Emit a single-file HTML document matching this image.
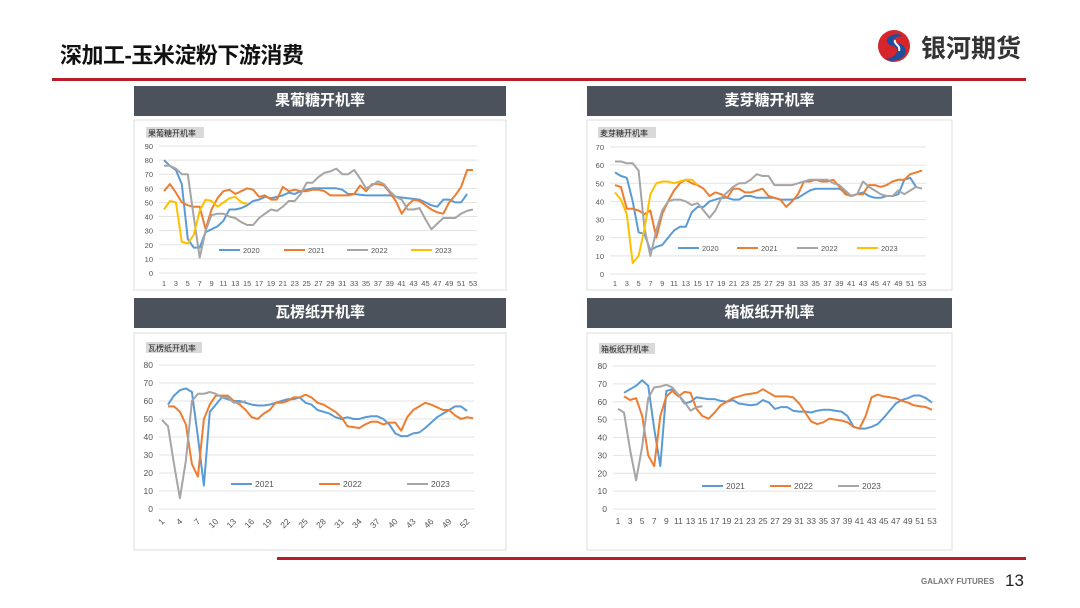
<!DOCTYPE html>
<html><head><meta charset="utf-8">
<style>
html,body{margin:0;padding:0;background:#fff;}
body{width:1080px;height:608px;position:relative;overflow:hidden;font-family:"Liberation Sans","Noto Sans CJK SC",sans-serif;}
.abs{position:absolute;}
.hdr{position:absolute;background:#4b525b;color:#fff;font-weight:bold;font-size:15px;text-align:center;line-height:30px;height:30px;}
</style></head>
<body>
<div class="abs" style="left:60px;top:38px;font-size:22px;font-weight:bold;color:#111;letter-spacing:-0.5px;">深加工-玉米淀粉下游消费</div>
<div class="abs" style="left:875px;top:28px;width:155px;height:36px;">
<svg width="40" height="36"><circle cx="19" cy="18" r="16" fill="#d7252c"/><path d="M24 6 C10 6 8 16 18 18 C26 20 22 30 10 31 C18 36 34 30 30 20 C28 14 16 16 20 10 C22 8 26 8 28 9 Z" fill="#1d4f9c"/><path d="M20 12 C18 16 26 17 24 23" stroke="#fff" stroke-width="2" fill="none"/></svg>
<span class="abs" style="left:46px;top:1px;font-size:25px;font-weight:bold;color:#333;white-space:nowrap;">银河期货</span>
</div>
<div class="abs" style="left:52px;top:78px;width:974px;height:3px;background:#b81c24;"></div>
<div class="hdr" style="left:134px;top:86px;width:372px;">果葡糖开机率</div>
<div class="hdr" style="left:587px;top:86px;width:365px;">麦芽糖开机率</div>
<div class="hdr" style="left:134px;top:298px;width:372px;">瓦楞纸开机率</div>
<div class="hdr" style="left:587px;top:298px;width:365px;">箱板纸开机率</div>
<div class="abs" style="left:277px;top:557px;width:749px;height:3px;background:#b81c24;"></div>
<div class="abs" style="left:921px;top:577px;font-size:8px;font-weight:bold;color:#777;">GALAXY FUTURES</div>
<div class="abs" style="left:1005px;top:571px;font-size:17px;color:#222;">13</div>
<svg id="charts" class="abs" style="left:0;top:0" width="1080" height="608"></svg>
<script>
// ---- data ----
const weeks = Array.from({length:53},(_,i)=>i+1);
const fructoseTicks = [0,10,20,30,40,50,60,70,80,90];
const fructose2020 = [80,76,73,63,24,18,18,29,31,33,37,45,45,46,48,51,52,54,53,54,55,57,56,58,59,60,60,60,60,60,59,56,56,55.5,55,55,55,55,55,54,53.5,53,52.5,52,50,48,47,52,52,50,50,56];
const fructose2021 = [58,63,57,50,48,47,47,31,45,53,58,59,56,58,60,59,54,55,52,52,61,58,59,58,58,59,59,58,55,55,55,55,56,62,58,63,63,62,57,51,42,48,52,51,48,45,43,42,50,55,61,73,73];
const fructose2022 = [76,76,74,70,70,40,11,30,41,42,42,40,39,36,34,34,39,42,45,44,47,51,51,56,64,64,68,71,72,74,70,70,73,67,60,62,65,63,58,54,52,45,45,46,38,31,35,39,39,39,42,44,45];
const fructose2023 = [45,51,50,22,21,27,44,52,51,47,50,53,54,50,49];
const maltoseTicks = [0,10,20,30,40,50,60,70];
const maltose2020 = [56,54,53,40,23,22,13,15,16,20,24,26,26,34,37,37,40,41,42,42,41,41,43,43,42,42,42,42,41,41,41,42,44,46,47,47,47,47,47,45,43,44,45,43,42,42,43,43,44,52,53,48];
const maltose2021 = [49,48,36,36,35,33,35,20,33,40,46,50,52,50,49,47,43,45,44,42,47,47,45,45,46,47,43,42,41,37,40,44,51,51,52,51,51,52,48,44,43,44,44,49,49,48,49,51,52,52,55,56,57];
const maltose2022 = [62,62,61,61,57,25,10,24,35,40,41,41,40,38,39,35,31,35,42,45,48,50,50,52,55,54,54,49,49,49,49,50,51,52,52,52,52,50,49,46,43,44,51,48,46,44,43,43,46,44,46,48,47];
const maltose2023 = [45,41,33,6,10,25,44,50,51,51,50,51,52,52,49];
const paperTicks = [0,10,20,30,40,50,60,70,80];
const corrugated2021 = [null,58,63,66,67,65,40,13,54,58,62,61,60,60,59,58,57.5,57.5,58,59,60,61,61,62,59,58,55,54,53,51,50,51,50,50,51,51.5,51.5,50,47,42,40.5,40.5,42,42.5,45,48,51,53,55,57,57,54.5];
const corrugated2022 = [null,57,57,54,47,25,18,50,58,63,63,63,60,58,55,51,50,53,55,59,59,60,62,62,63.5,62,59,58,56,54,51,46,45.5,45,47,48.5,48.5,47,48,48,43.5,51,55,57,59,58,56.5,55,55,52,50,51,50.5];
const corrugated2023 = [49.5,46,25,6,27,60,64,64,65,64,62,62,59,59,60];
const boxboard2021 = [null,65,67,69,72,69,45,24,66,67,64,59,60,62.5,62,61.5,61.5,60.5,60,61,59,58.5,58,58.5,61,59.5,56,57,57,55,54.5,54.5,54,55,55.5,55.5,55,54.5,52,46,45,45,46,47.5,51,55,59,61,62,63.5,63.5,62,59.5];
const boxboard2022 = [null,63,61,62,52,30,24,52,63,66,63,65.5,65,56,52,50.5,54,58,60,62,63,64,64.5,65,67,65,63,63,63,62.5,59,54,49,47.5,48.5,50.5,50,49.5,48.5,46,45,52,62.5,64,63,62.5,62,60.5,59.5,58,57.5,57,55.5];
const boxboard2023 = [56,54,33,16,35,62,68,68.5,69.5,68,64,60,55,57,57.5];
const seriesColors = {"2020":"#5b9bd5","2021":"#ed7d31","2022":"#a5a5a5","2023":"#ffc000"};
const seriesColors2 = {"2021":"#5b9bd5","2022":"#ed7d31","2023":"#a5a5a5"};

const NS="http://www.w3.org/2000/svg";
const root=document.getElementById('charts');
function mk(tag,attrs,parent){const e=document.createElementNS(NS,tag);for(const k in attrs)e.setAttribute(k,attrs[k]);(parent||root).appendChild(e);return e;}

function drawChart(c){
  const g=mk('g',{});
  
  
  const frame=mk('rect',{x:c.bx,y:c.by,width:c.bw,height:c.bh,fill:'#fff',stroke:'#dcdcdc','stroke-width':1},g);
  
  
  const tb=mk('rect',{x:c.tx,y:c.ty,width:c.tw,height:11,fill:'#d9d9d9'},g);
  
  
  const tt=mk('text',{x:c.tx+2,y:c.ty+9,'font-size':8,fill:'#222'},g);
  tt.textContent=c.title;
  
  
  const ymax=c.ticks[c.ticks.length-1];
  const ys=v=>c.y0-(v/ymax)*(c.y0-c.yTop);
  const xs=w=>c.x1+(w-1)*(c.x53-c.x1)/52;
  c.ticks.forEach(t=>{
    const l=mk('line',{x1:c.gx0,x2:c.gx1,y1:ys(t),y2:ys(t),stroke:'#e3e3e3','stroke-width':1},g);
    
    
    const tx=mk('text',{x:c.gx0-6,y:ys(t)+3,'font-size':c.fs,fill:'#555','text-anchor':'end'},g);
    tx.textContent=t;
    
    
  });
  weeks.forEach(w=>{
    if((w-1)%c.step!==0)return;
    let tx;
    if(c.rot){
      tx=mk('text',{x:xs(w)+3,y:c.ly,'font-size':c.fs,fill:'#555','text-anchor':'end',transform:`rotate(-45 ${xs(w)+3} ${c.ly})`},g);
    } else {
      tx=mk('text',{x:xs(w),y:c.ly,'font-size':c.fs,fill:'#555','text-anchor':'middle'},g);
    }
    tx.textContent=w;
    
    
  });
  c.series.forEach((s,i)=>{
    let d='';let pen=false;
    s.values.forEach((v,j)=>{
      if(v===null||v===undefined){pen=false;return;}
      d+=(pen?'L':'M')+xs(weeks[j]).toFixed(1)+' '+ys(v).toFixed(1)+' ';pen=true;
    });
    const p=mk('path',{d:d,fill:'none',stroke:s.color,'stroke-width':2,'stroke-linejoin':'round'},g);
    
    
    const lx=c.legX[i];
    const ll=mk('line',{x1:lx,x2:lx+21,y1:c.legY,y2:c.legY,stroke:s.color,'stroke-width':2},g);
    
    
    const lt=mk('text',{x:lx+24,y:c.legY+3,'font-size':c.fs,fill:'#555'},g);
    lt.textContent=s.label;
    
    
  });
}

drawChart({name:'fructose-chart',title:'果葡糖开机率',bx:134,by:120,bw:372,bh:170,tx:146,ty:127,tw:58,
  ticks:fructoseTicks,y0:273,yTop:146,x1:164,x53:473,gx0:159,gx1:477,ly:286,fs:7.5,step:2,rot:false,
  legY:250,legX:[219,284,347,411],
  series:[{label:'2020',values:fructose2020,color:seriesColors['2020']},{label:'2021',values:fructose2021,color:seriesColors['2021']},{label:'2022',values:fructose2022,color:seriesColors['2022']},{label:'2023',values:fructose2023,color:seriesColors['2023']}]});
drawChart({name:'maltose-chart',title:'麦芽糖开机率',bx:587,by:120,bw:365,bh:170,tx:598,ty:127,tw:58,
  ticks:maltoseTicks,y0:274,yTop:147,x1:615,x53:922,gx0:610,gx1:926,ly:286,fs:7.5,step:2,rot:false,
  legY:248,legX:[678,737,797,857],
  series:[{label:'2020',values:maltose2020,color:seriesColors['2020']},{label:'2021',values:maltose2021,color:seriesColors['2021']},{label:'2022',values:maltose2022,color:seriesColors['2022']},{label:'2023',values:maltose2023,color:seriesColors['2023']}]});
drawChart({name:'corrugated-chart',title:'瓦楞纸开机率',bx:134,by:333,bw:372,bh:217,tx:146,ty:342,tw:56,
  ticks:paperTicks,y0:509,yTop:365,x1:162,x53:473,gx0:159,gx1:474,ly:522,fs:8.5,step:3,rot:true,
  legY:484,legX:[231,319,407],
  series:[{label:'2021',values:corrugated2021,color:seriesColors2['2021']},{label:'2022',values:corrugated2022,color:seriesColors2['2022']},{label:'2023',values:corrugated2023,color:seriesColors2['2023']}]});
drawChart({name:'boxboard-chart',title:'箱板纸开机率',bx:587,by:333,bw:365,bh:217,tx:599,ty:343,tw:56,
  ticks:paperTicks,y0:509,yTop:366,x1:618,x53:932,gx0:613,gx1:936,ly:524,fs:8.5,step:2,rot:false,
  legY:486,legX:[702,770,838],
  series:[{label:'2021',values:boxboard2021,color:seriesColors2['2021']},{label:'2022',values:boxboard2022,color:seriesColors2['2022']},{label:'2023',values:boxboard2023,color:seriesColors2['2023']}]});
</script>
</body></html>
